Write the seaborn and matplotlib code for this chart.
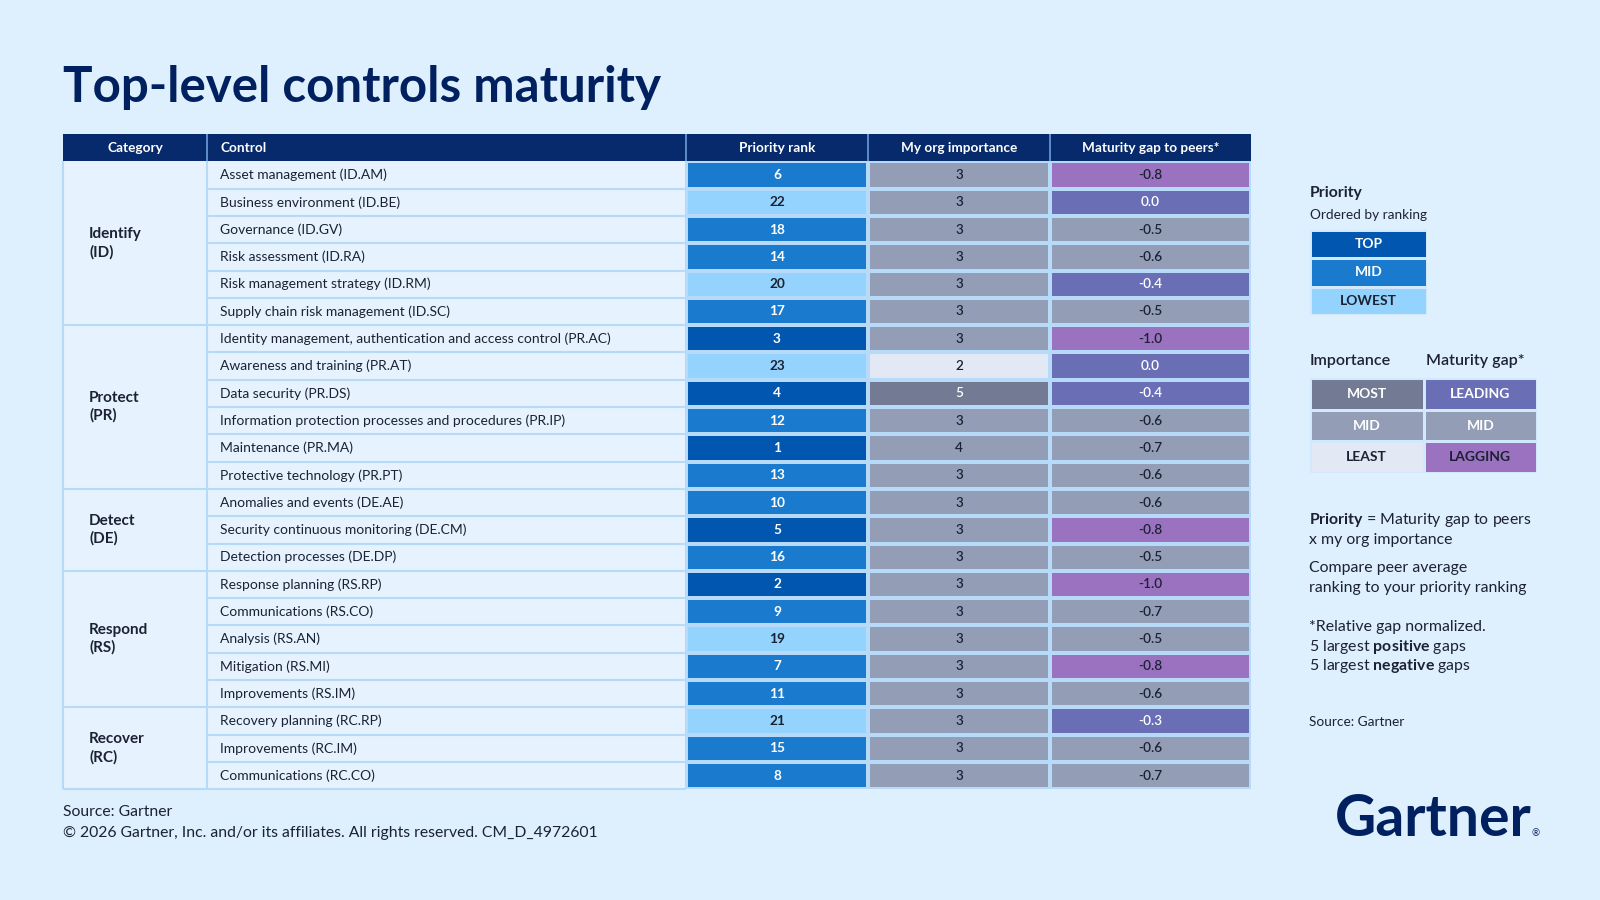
import numpy as np
import matplotlib
matplotlib.use("Agg")
import matplotlib.pyplot as plt
from matplotlib.colors import ListedColormap
import seaborn as sns

# ---- data -------------------------------------------------------------
categories = ["Identify\n(ID)", "Protect\n(PR)", "Detect\n(DE)", "Respond\n(RS)", "Recover\n(RC)"]
group_sizes = [6, 6, 3, 5, 3]
controls = [
    "Asset management (ID.AM)",
    "Business environment (ID.BE)",
    "Governance (ID.GV)",
    "Risk assessment (ID.RA)",
    "Risk management strategy (ID.RM)",
    "Supply chain risk management (ID.SC)",
    "Identity management, authentication and access control (PR.AC)",
    "Awareness and training (PR.AT)",
    "Data security (PR.DS)",
    "Information protection processes and procedures (PR.IP)",
    "Maintenance (PR.MA)",
    "Protective technology (PR.PT)",
    "Anomalies and events (DE.AE)",
    "Security continuous monitoring (DE.CM)",
    "Detection processes (DE.DP)",
    "Response planning (RS.RP)",
    "Communications (RS.CO)",
    "Analysis (RS.AN)",
    "Mitigation (RS.MI)",
    "Improvements (RS.IM)",
    "Recovery planning (RC.RP)",
    "Improvements (RC.IM)",
    "Communications (RC.CO)",
]
priority_rank = [6, 22, 18, 14, 20, 17, 3, 23, 4, 12, 1, 13, 10, 5, 16, 2, 9, 19, 7, 11, 21, 15, 8]
importance = [3, 3, 3, 3, 3, 3, 3, 2, 5, 3, 4, 3, 3, 3, 3, 3, 3, 3, 3, 3, 3, 3, 3]
maturity_gap = [-0.8, 0.0, -0.5, -0.6, -0.4, -0.5, -1.0, 0.0, -0.4, -0.6, -0.7, -0.6,
                -0.6, -0.8, -0.5, -1.0, -0.7, -0.5, -0.8, -0.6, -0.3, -0.6, -0.7]
headers = ["Category", "Control", "Priority rank", "My org importance", "Maturity gap to peers*"]
priority_levels = ["TOP", "MID", "LOWEST"]
importance_levels = ["MOST", "MID", "LEAST"]
gap_levels = ["LEADING", "MID", "LAGGING"]

# ---- style ------------------------------------------------------------
PAGE = "#DEEFFD"
BODY = "#E6F3FE"
GRID = "#B6DAF7"
NAVY = "#062A6B"
TITLE = "#002060"
DARK = "#1C2233"
prio_colors = ["#0156B0", "#1A7BCE", "#93D3FD"]
imp_colors = ["#737B94", "#939DB5", "#E2E9F4"]
gap_colors = ["#6A6FB5", "#939DB5", "#9A72BF"]

sns.set_theme(style="white")
plt.rcParams["font.family"] = ["Lato", "DejaVu Sans"]
plt.rcParams["mathtext.fontset"] = "custom"
plt.rcParams["mathtext.rm"] = "Lato"
plt.rcParams["mathtext.bf"] = "Lato:bold"

W, H = 1600, 900
ROW_H = 27.3
n = len(controls)
col_edges = [63, 207, 686, 868, 1050, 1251]
top = 134


def px_box(x0, y0, x1, y1):
    return [x0 / W, 1 - y1 / H, (x1 - x0) / W, (y1 - y0) / H]


def cell_block(rect, codes, labels, colors, txt_colors, lw=1.5, lc=GRID, fs=9.8, weight="bold"):
    ax = fig.add_axes(rect)
    codes = np.asarray(codes)
    sns.heatmap(codes, ax=ax, cmap=ListedColormap(colors), vmin=-0.5, vmax=len(colors) - 0.5,
                annot=np.asarray(labels), fmt="", cbar=False, linewidths=lw, linecolor=lc,
                xticklabels=False, yticklabels=False,
                annot_kws=dict(fontsize=fs, fontweight=weight))
    for t, c in zip(ax.texts, codes.ravel()):
        t.set_color(txt_colors[c])
    ax.set_axis_off()
    return ax


fig = plt.figure(figsize=(16, 9), dpi=100, facecolor=PAGE)
page = fig.add_axes([0, 0, 1, 1])
page.set_xlim(0, W)
page.set_ylim(H, 0)
page.set_axis_off()

page.text(63, 102, "Top-level controls maturity", fontsize=35.5, fontweight="bold",
          color=TITLE, va="baseline")

# ---- table frame, header and text columns -----------------------------
tab = fig.add_axes(px_box(col_edges[0], top, col_edges[-1], top + (n + 1) * ROW_H))
tab.set_xlim(col_edges[0], col_edges[-1])
tab.set_ylim(n, -1)
tab.set_axis_off()
tab.axhspan(0, n, color=BODY, lw=0)
tab.axhspan(-1, 0, color=NAVY, lw=0)
tab.vlines(col_edges[1:-1], -1, 0, color="#6E9FD6", lw=1.2)

bounds = np.cumsum(group_sizes)
tab.hlines(np.arange(1, n), col_edges[1], col_edges[2], color=GRID, lw=1.5)
tab.hlines(bounds, col_edges[0], col_edges[1], color=GRID, lw=1.5, clip_on=False)
tab.hlines(n, col_edges[0], col_edges[2], color=GRID, lw=1.5, clip_on=False)
tab.vlines(col_edges[:3], 0, n, color=GRID, lw=1.5, clip_on=False)

hdr_kw = dict(color="white", fontsize=9.8, fontweight="bold", va="center")
for i, h in enumerate(headers):
    if i == 1:
        tab.text(col_edges[1] + 13, -0.5, h, ha="left", **hdr_kw)
    else:
        tab.text((col_edges[i] + col_edges[i + 1]) / 2, -0.5, h, ha="center", **hdr_kw)

for i, c in enumerate(controls):
    tab.text(col_edges[1] + 13, i + 0.5, c, va="center", fontsize=10, color=DARK)

start = 0
for cat, size in zip(categories, group_sizes):
    tab.text(col_edges[0] + 26, start + size / 2, cat, va="center", fontsize=11,
             fontweight="bold", color=DARK, linespacing=1.3)
    start += size

# ---- coloured value columns -------------------------------------------
prio_tier = [0 if r <= 5 else (1 if r <= 18 else 2) for r in priority_rank]
imp_tier = [0 if v >= 5 else (2 if v <= 2 else 1) for v in importance]
gap_tier = [0 if g >= -0.4 else (2 if g <= -0.8 else 1) for g in maturity_gap]

y0, y1 = top + ROW_H, top + (n + 1) * ROW_H
cell_block(px_box(col_edges[2], y0, col_edges[3], y1), np.reshape(prio_tier, (-1, 1)),
           np.reshape([str(v) for v in priority_rank], (-1, 1)), prio_colors,
           ["white", "white", DARK])
cell_block(px_box(col_edges[3], y0, col_edges[4], y1), np.reshape(imp_tier, (-1, 1)),
           np.reshape([str(v) for v in importance], (-1, 1)), imp_colors,
           ["white", DARK, DARK], weight="semibold")
cell_block(px_box(col_edges[4], y0, col_edges[5], y1), np.reshape(gap_tier, (-1, 1)),
           np.reshape([f"{v:.1f}" for v in maturity_gap], (-1, 1)), gap_colors,
           ["white", DARK, DARK], weight="semibold")

# ---- legends -----------------------------------------------------------
page.text(1310, 193, "Priority", fontsize=11.3, fontweight="bold", color=DARK, va="center")
page.text(1310, 215, "Ordered by ranking", fontsize=9.8, color=DARK, va="center")
cell_block(px_box(1310, 230, 1427, 315), [[0], [1], [2]],
           [[lv] for lv in priority_levels], prio_colors, ["white", "white", DARK],
           lw=2, lc="#D2E8FC", fs=10)

page.text(1310, 361, "Importance", fontsize=11.5, fontweight="semibold", color=DARK, va="center")
page.text(1426, 361, "Maturity gap*", fontsize=11.5, fontweight="semibold", color=DARK, va="center")
cell_block(px_box(1310, 378, 1537, 473), [[0, 3], [1, 4], [2, 5]],
           [[a, b] for a, b in zip(importance_levels, gap_levels)],
           imp_colors + gap_colors, ["white", "white", DARK, "white", "white", DARK],
           lw=2, lc="#D2E8FC", fs=10)

# ---- notes -------------------------------------------------------------
note_kw = dict(fontsize=11.4, color=DARK, va="center")
page.text(1309, 520, r"$\mathbf{Priority}$ = Maturity gap to peers", **note_kw)
page.text(1309, 540, "x my org importance", **note_kw)
page.text(1309, 568, "Compare peer average", **note_kw)
page.text(1309, 588, "ranking to your priority ranking", **note_kw)
page.text(1309, 627, "*Relative gap normalized.", **note_kw)
page.text(1309, 647, r"5 largest $\mathbf{positive}$ gaps", **note_kw)
page.text(1309, 666, r"5 largest $\mathbf{negative}$ gaps", **note_kw)
page.text(1309, 722, "Source: Gartner", fontsize=9.8, color=DARK, va="center")

# ---- footer and logo ---------------------------------------------------
page.text(63, 812, "Source: Gartner", fontsize=11.3, color=DARK, va="center")
page.text(63, 833, "\u00a9 2026 Gartner, Inc. and/or its affiliates. All rights reserved. CM_D_4972601",
          fontsize=11.3, color=DARK, va="center")
page.text(1532, 836, "Gartner", fontsize=41, fontweight="bold", color=TITLE,
          ha="right", va="baseline")
page.text(1531, 836, "\u00ae", fontsize=7, color=TITLE, ha="left", va="baseline")

fig.savefig("out.png", dpi=100, facecolor=PAGE)
